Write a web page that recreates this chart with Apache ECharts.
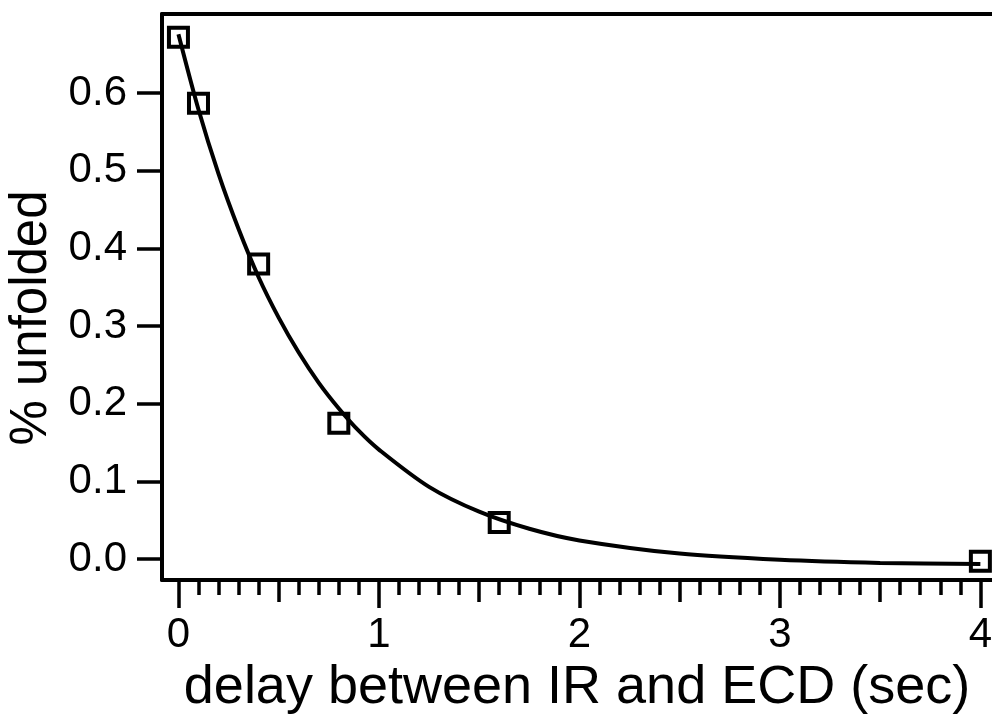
<!DOCTYPE html>
<html>
<head>
<meta charset="utf-8">
<script src="https://cdn.jsdelivr.net/npm/echarts@6/dist/echarts.min.js"></script>
<style>
  html, body { margin: 0; padding: 0; background: #fff; }
  #chart { width: 992px; height: 720px; }
</style>
</head>
<body>
<div id="chart"></div>
<script>
// measured points (delay in sec, fraction unfolded)
const delay = [0, 0.1, 0.4, 0.8, 1.6, 4.0]
const unfolded = [0.672, 0.587, 0.380, 0.175, 0.047, -0.003]

// exponential fit curve
const fitX = [0, 0.1, 0.2, 0.3, 0.4, 0.5, 0.6, 0.7, 0.8, 0.9, 1.0, 1.25, 1.5, 1.75, 2.0, 2.5, 3.0, 3.5, 4.0]
const fitY = [0.676, 0.579, 0.496, 0.425, 0.363, 0.311, 0.266, 0.227, 0.194, 0.165, 0.141, 0.093, 0.061, 0.039, 0.024, 0.007, -0.001, -0.005, -0.0065]

const xMajor = [0, 1, 2, 3, 4]
const xMid = [0.5, 1.5, 2.5, 3.5]
const yMajor = [0, 0.1, 0.2, 0.3, 0.4, 0.5, 0.6]

const xMin = -0.082
const xMax = 4.058
const yMin = -0.027
const yMax = 0.702

// minor ticks every 0.1 between the major ones
const xMinor = []
for (let i = 0; i <= 40; i++) {
  if (i % 5 !== 0) xMinor.push(i / 10)
}

const font = 'Liberation Sans, Arial, Helvetica, sans-serif'
const black = '#000'

function tickAxis(values, len) {
  return {
    type: 'value',
    position: 'bottom',
    min: xMin,
    max: xMax,
    axisLine: { show: false, onZero: false },
    axisTick: { show: true, customValues: values, length: len, lineStyle: { color: black, width: 3.5 } },
    axisLabel: { show: false },
    splitLine: { show: false }
  }
}

const chart = echarts.init(document.getElementById('chart'))

chart.setOption({
  animation: false,
  backgroundColor: '#fff',
  grid: {
    left: 162,
    right: 0,
    top: 14,
    bottom: 140,
    containLabel: false,
    outerBoundsMode: 'none'
  },
  xAxis: [
    {
      type: 'value',
      position: 'bottom',
      min: xMin,
      max: xMax,
      name: 'delay between IR and ECD (sec)',
      nameLocation: 'middle',
      nameGap: 73,
      nameTextStyle: { fontFamily: font, fontSize: 54, color: black },
      axisLine: { show: true, onZero: false, lineStyle: { color: black, width: 4 } },
      axisTick: { show: true, customValues: xMajor, length: 28, lineStyle: { color: black, width: 3.5 } },
      axisLabel: {
        customValues: xMajor,
        margin: 34,
        fontFamily: font,
        fontSize: 42,
        color: black
      },
      splitLine: { show: false }
    },
    tickAxis(xMid, 22),
    tickAxis(xMinor, 15),
    {
      type: 'value',
      position: 'top',
      min: xMin,
      max: xMax,
      axisLine: { show: true, onZero: false, lineStyle: { color: black, width: 4 } },
      axisTick: { show: false },
      axisLabel: { show: false },
      splitLine: { show: false }
    }
  ],
  yAxis: {
    type: 'value',
    min: yMin,
    max: yMax,
    name: '% unfolded',
    nameLocation: 'middle',
    nameRotate: 90,
    nameGap: 94,
    nameTextStyle: { fontFamily: font, fontSize: 51, color: black, padding: [0, 42, 0, 0] },
    axisLine: { show: true, onZero: false, lineStyle: { color: black, width: 4 } },
    axisTick: { show: true, customValues: yMajor, length: 25, lineStyle: { color: black, width: 3.5 } },
    axisLabel: {
      customValues: yMajor,
      margin: 35,
      fontFamily: font,
      fontSize: 42,
      color: black,
      formatter: function (v) { return v.toFixed(1) }
    },
    splitLine: { show: false }
  },
  series: [
    {
      name: 'fit',
      type: 'line',
      data: fitX.map((x, i) => [x, fitY[i]]),
      smooth: 0.3,
      showSymbol: false,
      symbol: 'none',
      lineStyle: { color: black, width: 4 },
      z: 2
    },
    {
      name: 'data',
      type: 'scatter',
      data: delay.map((x, i) => [x, unfolded[i]]),
      symbol: 'rect',
      symbolSize: 19,
      itemStyle: { color: 'rgba(0,0,0,0)', borderColor: black, borderWidth: 4, opacity: 1 },
      z: 3
    }
  ]
})
</script>
</body>
</html>
